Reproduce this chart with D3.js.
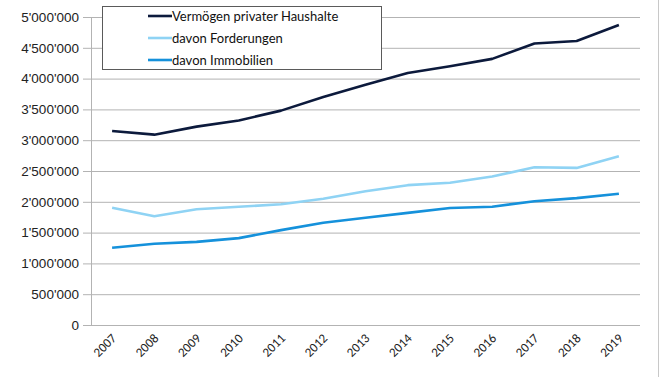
<!DOCTYPE html>
<html>
<head>
<meta charset="utf-8">
<script src="https://cdn.jsdelivr.net/npm/d3@7"></script>
<style>
  body { margin: 0; background: #fff; }
  svg { display: block; }
</style>
</head>
<body>
<div id="chart"></div>
<script>
// years on the x axis
const years = ["2007", "2008", "2009", "2010", "2011", "2012", "2013", "2014", "2015", "2016", "2017", "2018", "2019"];
// values
const vermoegen = [3150000, 3090000, 3220000, 3320000, 3480000, 3700000, 3900000, 4090000, 4200000, 4320000, 4570000, 4610000, 4870000];
const forderungen = [1905000, 1765000, 1880000, 1920000, 1960000, 2050000, 2170000, 2270000, 2310000, 2410000, 2560000, 2550000, 2740000];
const immobilien = [1255000, 1320000, 1350000, 1410000, 1540000, 1660000, 1740000, 1820000, 1900000, 1920000, 2010000, 2060000, 2130000];
const seriesNames = ["Vermögen privater Haushalte", "davon Forderungen", "davon Immobilien"];
const yTicks = [0, 500000, 1000000, 1500000, 2000000, 2500000, 3000000, 3500000, 4000000, 4500000, 5000000];

const width = 670;
const height = 377;
const marginTop = 17;
const marginRight = 30;
const marginBottom = 52;
const marginLeft = 91;
const colors = ["#0c1a3c", "#8fd3f4", "#1591db"];

const series = [vermoegen, forderungen, immobilien].map((values, i) => ({
    name: seriesNames[i],
    color: colors[i],
    values: values.map((v, j) => ({year: years[j], value: v}))
}));

const x = d3.scaleBand()
    .domain(years)
    .range([marginLeft, width - marginRight]);

const y = d3.scaleLinear()
    .domain([0, 5000000])
    .range([height - marginBottom, marginTop]);

// thousands separated with an apostrophe
const fmt = d3.formatLocale({decimal: ".", thousands: "'", grouping: [3], currency: ["", ""]}).format(",d");

const svg = d3.select("#chart").append("svg")
    .attr("width", width)
    .attr("height", height)
    .attr("font-family", "Lato, 'Open Sans', sans-serif");

// chart border on the right
svg.append("line")
    .attr("x1", 658.5).attr("x2", 658.5)
    .attr("y1", 0).attr("y2", height)
    .attr("stroke", "#c8c8c8");

// grid lines
svg.append("g")
    .attr("transform", `translate(${marginLeft},0)`)
    .call(d3.axisLeft(y).tickValues(yTicks).tickFormat(fmt).tickSize(8).tickPadding(4))
    .call(g => g.select(".domain").attr("stroke", "#b3b3b3"))
    .call(g => g.selectAll(".tick line").clone()
        .attr("x1", 0)
        .attr("x2", width - marginRight - marginLeft)
        .attr("stroke", "#c0c0c0"))
    .call(g => g.selectAll(".tick line").attr("stroke", "#b3b3b3"))
    .call(g => g.selectAll("text")
        .attr("font-size", 13.5)
        .attr("fill", "#222")
        .attr("x", -12));

// x axis labels
svg.append("g")
    .attr("transform", `translate(0,${height - marginBottom})`)
    .call(d3.axisBottom(x).tickSize(0).tickPadding(0))
    .call(g => g.select(".domain").remove())
    .call(g => g.selectAll("text")
        .attr("font-family", "Carlito, 'Liberation Sans', sans-serif")
        .attr("font-size", 13)
        .attr("fill", "#222")
        .attr("text-anchor", "end")
        .attr("dy", 0)
        .attr("transform", "translate(5,14) rotate(-45)"));

// the lines
const line = d3.line()
    .x(d => x(d.year) + x.bandwidth() / 2)
    .y(d => y(d.value));

svg.append("g")
    .selectAll("path")
    .data(series)
    .join("path")
    .attr("fill", "none")
    .attr("stroke", d => d.color)
    .attr("stroke-width", 2.6)
    .attr("stroke-linejoin", "round")
    .attr("d", d => line(d.values));

// legend box
const legend = svg.append("g").attr("transform", "translate(102,6)");
legend.append("rect")
    .attr("x", 0.5).attr("y", 0.5)
    .attr("width", 279).attr("height", 63)
    .attr("fill", "#fff")
    .attr("stroke", "#5a5a5a");

const item = legend.selectAll("g")
    .data(series)
    .join("g")
    .attr("transform", (d, i) => `translate(0,${10 + i * 22})`);

item.append("line")
    .attr("x1", 46).attr("x2", 70)
    .attr("stroke", d => d.color)
    .attr("stroke-width", 2.6);

item.append("text")
    .attr("x", 70)
    .attr("dy", "0.35em")
    .attr("font-size", 13)
    .attr("fill", "#111")
    .text(d => d.name);
</script>
</body>
</html>
